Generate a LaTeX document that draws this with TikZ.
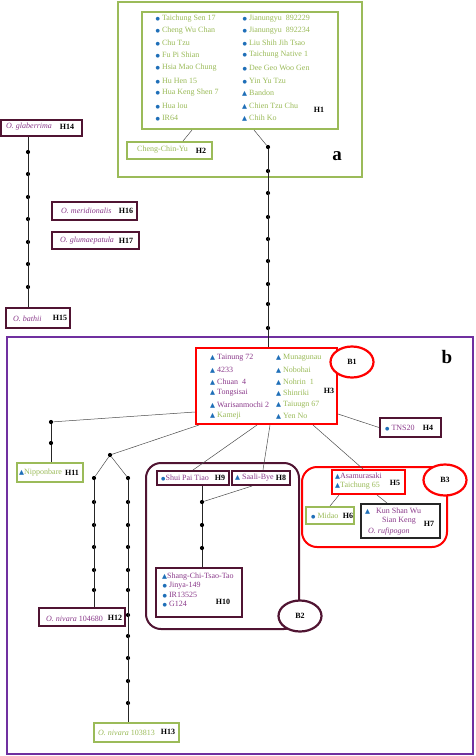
\documentclass[tikz,border=0pt]{standalone}
\usepackage{fontspec}
\setmainfont{Liberation Serif}
\newfontfamily\symfont{DejaVu Sans}
\usetikzlibrary{fit,shapes.geometric}

\definecolor{hgreen}{HTML}{9BBB59}
\definecolor{hpurple}{HTML}{8B3A8B}
\definecolor{hmaroon}{HTML}{501432}
\definecolor{hviolet}{HTML}{7030A0}
\definecolor{hred}{HTML}{FF0000}
\definecolor{hblue}{HTML}{1F6FB8}

% blue markers in front of the cultivar names
\newcommand{\bul}{\textcolor{hblue}{\symfont\fontsize{5}{5}\selectfont ●}}
\newcommand{\tri}{\textcolor{hblue}{\symfont\fontsize{6.5}{6.5}\selectfont ▲}}

\begin{document}
\begin{tikzpicture}[x=1pt,y=-1pt,
    every node/.style={font=\fontsize{8}{9.5}\selectfont},
    txt/.style={anchor=west,inner sep=0pt},
    hlab/.style={inner sep=0pt,font=\bfseries\fontsize{8}{9.5}\selectfont},
    hbox/.style={draw=#1,line width=2pt,fill=white,inner sep=0pt},
    blob/.style={ellipse,draw=#1,line width=2.2pt,fill=white,inner sep=0pt,
        minimum width=43pt,minimum height=31pt,font=\bfseries\fontsize{8}{9.5}\selectfont},
    dot/.style={circle,fill=black,inner sep=0pt,minimum size=4.2pt},
    link/.style={line width=0.5pt,black!70},
    chainln/.style={line width=1pt,black!85}]
    \useasboundingbox (0,0) rectangle (475,756);

    % Groups a and b
    \node[draw=hgreen,line width=2.4pt,inner sep=0pt,fit={(118,2) (362,177)}] (grpa) {};
    \node[draw=hviolet,line width=2.2pt,inner sep=0pt,fit={(7,337) (473,754)}] (grpb) {};
    \node[font=\bfseries\fontsize{19}{19}\selectfont] (laba) at (337,156) {a};
    \node[font=\bfseries\fontsize{19}{19}\selectfont] (labb) at (447,357) {b};

    % Clusters B2 and B3
    \node[draw=hmaroon,line width=2pt,rounded corners=15pt,inner sep=0pt,fit={(146,463) (299,629)}] (clbtwo) {};
    \node[draw=hred,line width=2pt,rounded corners=15pt,inner sep=0pt,fit={(302,467) (447,547)}] (clbthree) {};

    % Haplotype boxes
    \node[hbox=hgreen,fit={(142,12) (338,129)}] (h1) {};
    \node[hbox=hgreen,fit={(127,142) (212,159)}] (h2) {};
    \node[hbox=hred,fit={(196,348) (337,424)}] (h3) {};
    \node[hbox=hmaroon,fit={(380,418) (441,437)}] (h4) {};
    \node[hbox=hred,fit={(332,470) (405,494)}] (h5) {};
    \node[hbox=hgreen,fit={(306,507) (354,524)}] (h6) {};
    \node[hbox=black!85,fit={(361,504) (440,538)}] (h7) {};
    \node[hbox=hmaroon,fit={(232,471) (290,485)}] (h8) {};
    \node[hbox=hmaroon,fit={(157,471) (229,485)}] (h9) {};
    \node[hbox=hmaroon,fit={(156,568) (242,617)}] (h10) {};
    \node[hbox=hgreen,fit={(17,463) (83,482)}] (h11) {};
    \node[hbox=hmaroon,fit={(39,608) (125,626)}] (h12) {};
    \node[hbox=hgreen,fit={(94,723) (179,742)}] (h13) {};
    \node[hbox=hmaroon,fit={(1,120) (82,136)}] (h14) {};
    \node[hbox=hmaroon,fit={(6,308) (70,328)}] (h15) {};
    \node[hbox=hmaroon,fit={(52,202) (137,220)}] (h16) {};
    \node[hbox=hmaroon,fit={(52,232) (139,249)}] (h17) {};

    % Mutation steps
    \foreach \y [count=\i] in {147,171,193,217,239,261,284,304,328}
        \node[dot] (a\i) at (268,\y) {};
    \foreach \y [count=\i] in {152,174,197,219,242,264,287}
        \node[dot] (c\i) at (28,\y) {};
    \node[dot] (d1) at (51,422) {};
    \node[dot] (d2) at (51,443) {};
    \node[dot] (e) at (110,455) {};
    \foreach \y [count=\i] in {478,502,525,547,570,590}
        \node[dot] (f\i) at (94,\y) {};
    \foreach \y [count=\i] in {478,502,525,547,570,590,615,636,658,681,703}
        \node[dot] (g\i) at (128,\y) {};
    \foreach \y [count=\i] in {502,525,548}
        \node[dot] (k\i) at (202,\y) {};

    % Connectors
    \draw[link] ([xshift=-48pt]h1.south) -- ([xshift=13.5pt]h2.north);
    \draw[link] ([xshift=14pt]h1.south) -- (a1);
    \draw[chainln] (a1) foreach \i in {2,...,9} {-- (a\i)} -- ([xshift=1.5pt]h3.north);
    \draw[chainln] ([xshift=-13.5pt]h14.south) -- (c1) foreach \i in {2,...,7} {-- (c\i)} -- ([xshift=-10pt]h15.north);
    \draw[link] ([yshift=-28pt]h3.east) -- (h4.west);
    \draw[link] ([yshift=-26pt]h3.west) -- (d1);
    \draw[chainln] (d1) -- (d2) -- ([xshift=1pt]h11.north);
    \draw[link] ([xshift=4pt]h3.south west) -- (e);
    \draw[link] (e) -- (f1);
    \draw[link] (e) -- (g1);
    \draw[chainln] (f1) foreach \i in {2,...,6} {-- (f\i)} -- ([xshift=12pt]h12.north);
    \draw[chainln] (g1) foreach \i in {2,...,11} {-- (g\i)} -- ([xshift=-8.5pt]h13.north);
    \draw[link] ([xshift=-9.5pt]h3.south) -- (h9.north);
    \draw[link] ([xshift=3.5pt]h3.south) -- ([xshift=2pt]h8.north);
    \draw[link] ([xshift=46.5pt]h3.south) -- ([xshift=-5.5pt]h5.north);
    \draw[chainln] ([xshift=9pt]h9.south) -- (k1) -- (k2) -- (k3) -- ([xshift=3pt]h10.north);
    \draw[link] ([xshift=-9pt]h8.south) -- (k1);
    \draw[link] ([xshift=-29.5pt]h5.south) -- (h6.north);
    \draw[link] ([xshift=8.5pt]h5.south) -- ([xshift=-13.5pt]h7.north);

    % Cluster labels
    \node[blob=hred] (b1) at (352,362) {B1};
    \node[blob=hmaroon] (b2) at (300,616) {B2};
    \node[blob=hred] (b3) at (445,480) {B3};

    % H1 cultivars
    \node[txt,text=hgreen] (h1a) at (155.5,19) {\bul\ Taichung Sen 17};
    \node[txt,text=hgreen] (h1b) at (155.5,31) {\bul\ Cheng Wu Chan};
    \node[txt,text=hgreen] (h1c) at (155.5,43) {\bul\ Chu Tzu};
    \node[txt,text=hgreen] (h1d) at (155.5,55) {\bul\ Fu Pi Shian};
    \node[txt,text=hgreen] (h1e) at (155.5,68) {\bul\ Hsia Mao Chung};
    \node[txt,text=hgreen] (h1f) at (155.5,81) {\bul\ Hu Hen 15};
    \node[txt,text=hgreen] (h1g) at (155.5,93) {\bul\ Hua Keng Shen 7};
    \node[txt,text=hgreen] (h1h) at (155.5,106) {\bul\ Hua lou};
    \node[txt,text=hgreen] (h1i) at (155.5,118) {\bul\ IR64};
    \node[txt,text=hgreen] (h1j) at (242.5,19) {\bul\ Jianungyu\ \ 892229};
    \node[txt,text=hgreen] (h1k) at (242.5,31) {\bul\ Jianungyu\ \ 892234};
    \node[txt,text=hgreen] (h1l) at (242.5,43) {\bul\ Liu Shih Jih Tsao};
    \node[txt,text=hgreen] (h1m) at (242.5,55) {\bul\ Taichung Native 1};
    \node[txt,text=hgreen] (h1n) at (242.5,68) {\bul\ Dee Geo Woo Gen};
    \node[txt,text=hgreen] (h1o) at (242.5,81) {\bul\ Yin Yu Tzu};
    \node[txt,text=hgreen] (h1p) at (242,93) {\tri\ Bandon};
    \node[txt,text=hgreen] (h1q) at (242,106) {\tri\ Chien Tzu Chu};
    \node[txt,text=hgreen] (h1r) at (242,118) {\tri\ Chih Ko};
    \node[hlab] (h1n0) at (319,110) {H1};

    % H2
    \node[txt,text=hgreen] (h2a) at (137,150) {Cheng-Chin-Yu};
    \node[hlab] (h2n0) at (201,151) {H2};

    % H3 cultivars
    \node[txt,text=hpurple] (h3a) at (210,358) {\tri\ Tainung 72};
    \node[txt,text=hpurple] (h3b) at (210,370) {\tri\ 4233};
    \node[txt,text=hpurple] (h3c) at (210,382) {\tri\ Chuan\ \ 4};
    \node[txt,text=hpurple] (h3d) at (210,393) {\tri\ Tongsisai};
    \node[txt,text=hpurple] (h3e) at (210,405) {\tri\ Warisanmochi 2};
    \node[txt,text=hgreen] (h3f) at (210,416) {\tri\ Kameji};
    \node[txt,text=hgreen] (h3g) at (276,358) {\tri\ Munagunau};
    \node[txt,text=hgreen] (h3h) at (276,370) {\tri\ Nobohai};
    \node[txt,text=hgreen] (h3i) at (276,382) {\tri\ Nohrin\ \ 1};
    \node[txt,text=hgreen] (h3j) at (276,393) {\tri\ Shinriki};
    \node[txt,text=hgreen] (h3k) at (276,405) {\tri\ Taiuugn 67};
    \node[txt,text=hgreen] (h3l) at (276,416) {\tri\ Yen No};
    \node[hlab] (h3n0) at (329,391) {H3};

    % H4
    \node[txt,text=hpurple] (h4a) at (385,428) {\bul\ TNS20};
    \node[hlab] (h4n0) at (428,428) {H4};

    % B3 haplotypes
    \node[txt,text=hpurple] (h5a) at (335,476) {\tri Asamurasaki};
    \node[txt,text=hgreen] (h5b) at (335,486) {\tri Taichung 65};
    \node[hlab] (h5n0) at (395,483) {H5};
    \node[txt,text=hgreen] (h6a) at (311,516) {\bul\ Midao};
    \node[hlab] (h6n0) at (348,516) {H6};
    \node[txt,text=hpurple] (h7a) at (365,511) {\tri\ \ \ Kun Shan Wu};
    \node[txt,text=hpurple] (h7b) at (382,521) {Sian Keng};
    \node[txt,text=hpurple] (h7c) at (368,532) {\itshape O. rufipogon};
    \node[hlab] (h7n0) at (429,524) {H7};

    % B2 haplotypes
    \node[txt,text=hpurple] (h8a) at (235,478) {\tri\ Saali-Bye};
    \node[hlab] (h8n0) at (281,478) {H8};
    \node[txt,text=hpurple] (h9a) at (161,478) {\bul Shui Pai Tiao};
    \node[hlab] (h9n0) at (220,478) {H9};
    \node[txt,text=hpurple] (h10a) at (162,577) {\tri Shang-Chi-Tsao-Tao};
    \node[txt,text=hpurple] (h10b) at (162.5,586) {\bul\ Jinya-149};
    \node[txt,text=hpurple] (h10c) at (162.5,595) {\bul\ IR13525};
    \node[txt,text=hpurple] (h10d) at (162.5,604) {\bul\ G124};
    \node[hlab] (h10n0) at (223,602) {H10};

    % Remaining haplotypes
    \node[txt,text=hgreen] (h11a) at (19,473) {\tri Nipponbare};
    \node[hlab] (h11n0) at (72,473) {H11};
    \node[txt,text=hpurple] (h12a) at (46,619) {\textit{O. nivara} 104680};
    \node[hlab] (h12n0) at (115,618) {H12};
    \node[txt,text=hgreen] (h13a) at (98,733) {\textit{O. nivara} 103813};
    \node[hlab] (h13n0) at (168,732) {H13};
    \node[txt,text=hpurple] (h14a) at (6,127) {\itshape O. glaberrima};
    \node[hlab] (h14n0) at (67,127) {H14};
    \node[txt,text=hpurple] (h15a) at (13,319) {\itshape O. bathii};
    \node[hlab] (h15n0) at (60,318) {H15};
    \node[txt,text=hpurple] (h16a) at (61,211) {\itshape O. meridionalis};
    \node[hlab] (h16n0) at (126,211) {H16};
    \node[txt,text=hpurple] (h17a) at (60,241) {\itshape O. glumaepatula};
    \node[hlab] (h17n0) at (126,241) {H17};
\end{tikzpicture}
\end{document}
